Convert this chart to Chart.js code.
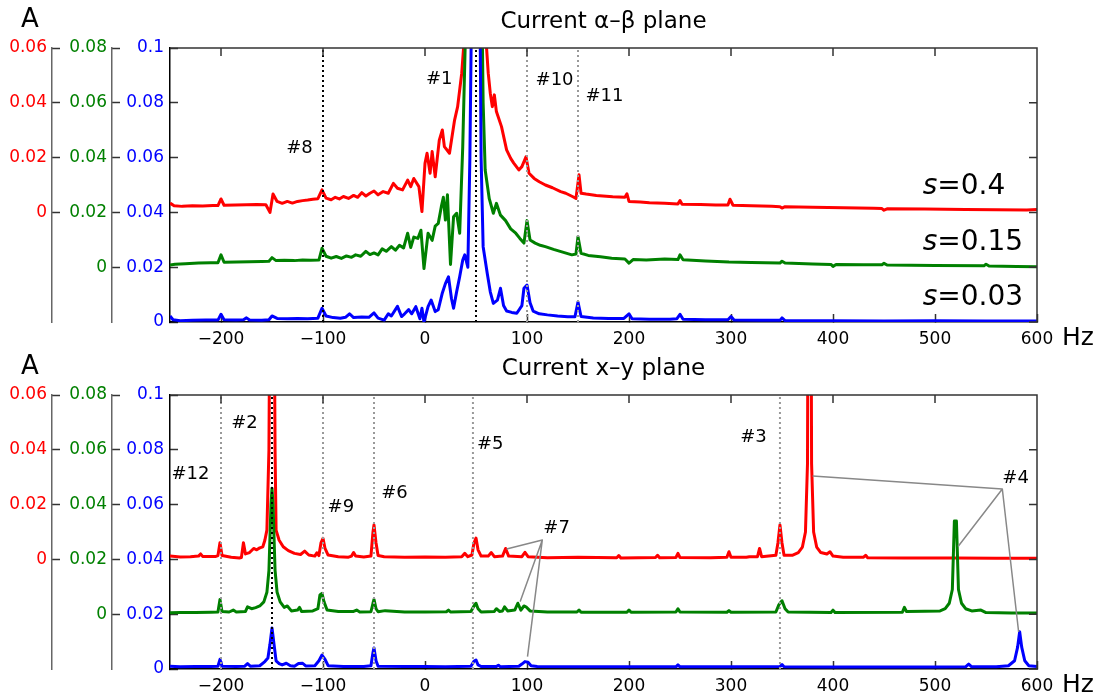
<!DOCTYPE html>
<html>
<head>
<meta charset="utf-8">
<script src="https://cdn.jsdelivr.net/npm/chart.js@4.4.0/dist/chart.umd.min.js"></script>
<style>
  body { margin: 0; background: #fff; }
  canvas { position: absolute; left: 0; }
  #ab { top: 0; }
  #xy { top: 347px; }
</style>
</head>
<body>
<canvas id="ab" width="1107" height="350"></canvas>
<canvas id="xy" width="1107" height="350"></canvas>
<script>
// Spectra as [frequency in Hz, amplitude in A], each trace in the units of its own axis
// (red axis is offset by 0.04, green by 0.02 relative to the blue one).

// Current in the alpha-beta plane
const abRed = [
  [-250, 0.0034], [-246, 0.0024], [-238, 0.0022], [-228, 0.0024], [-218, 0.0023], [-208, 0.0025],
  [-203, 0.0025], [-200, 0.0049], [-197, 0.0026], [-186, 0.0027], [-175, 0.0028], [-165, 0.0029],
  [-156, 0.0028], [-152, 0.0000], [-149, 0.0067], [-145, 0.0040], [-140, 0.0033], [-135, 0.0040],
  [-130, 0.0034], [-125, 0.0040], [-120, 0.0043], [-115, 0.0045], [-110, 0.0048], [-105, 0.0050],
  [-101, 0.0082], [-97, 0.0052], [-92, 0.0046], [-88, 0.0055], [-84, 0.0049], [-80, 0.0058],
  [-75, 0.0051], [-70, 0.0062], [-66, 0.0055], [-62, 0.0072], [-58, 0.0060], [-54, 0.0070],
  [-50, 0.0078], [-46, 0.0064], [-41, 0.0076], [-36, 0.0070], [-31, 0.0106], [-27, 0.0088],
  [-22, 0.0082], [-17, 0.0118], [-14, 0.0094], [-11, 0.0124], [-6, 0.0094], [-3, 0.0003],
  [0, 0.0179], [2, 0.0216], [5, 0.0143], [7, 0.0222], [10, 0.0130], [14, 0.0264], [17, 0.0301],
  [19, 0.0240], [24, 0.0216], [29, 0.0337], [32, 0.0386], [36, 0.0508], [39, 0.066], [42, 0.10],
  [46, 0.17], [50, 0.26], [54, 0.17], [57, 0.11], [60, 0.062], [62, 0.0508], [64, 0.0435],
  [66, 0.0386], [68, 0.0429], [70, 0.0368], [75, 0.0313], [80, 0.0228], [84, 0.0197], [87, 0.0180],
  [92, 0.0155], [95, 0.0167], [99, 0.0203], [102, 0.0143], [107, 0.0124], [112, 0.0112],
  [118, 0.0100], [125, 0.0090], [133, 0.0076], [138, 0.0070], [145, 0.0057], [148, 0.0051],
  [151, 0.0137], [153, 0.0070], [158, 0.0067], [168, 0.0062], [184, 0.0057], [196, 0.0055],
  [198, 0.0068], [200, 0.0040], [211, 0.0038], [220, 0.0035], [235, 0.0033], [248, 0.0031],
  [250, 0.0043], [252, 0.0030], [270, 0.0029], [285, 0.0027], [297, 0.0027], [299, 0.0048],
  [302, 0.0026], [320, 0.0024], [340, 0.0022], [348, 0.0021], [350, 0.0016], [353, 0.0021],
  [380, 0.0019], [410, 0.0017], [440, 0.0015], [448, 0.0014], [450, 0.0008], [453, 0.0013],
  [490, 0.0012], [530, 0.0011], [560, 0.0010], [590, 0.0009], [600, 0.0011]
];
const abGreen = [
  [-250, 0.0008], [-245, 0.0011], [-235, 0.0013], [-222, 0.0015], [-210, 0.0016], [-203, 0.0016],
  [-200, 0.0045], [-197, 0.0018], [-185, 0.0019], [-172, 0.0020], [-160, 0.0021], [-153, 0.0022],
  [-150, 0.0035], [-146, 0.0024], [-138, 0.0025], [-128, 0.0024], [-120, 0.0026], [-112, 0.0025],
  [-104, 0.0026], [-101, 0.0069], [-97, 0.0040], [-92, 0.0033], [-87, 0.0039], [-82, 0.0032],
  [-77, 0.0041], [-72, 0.0036], [-68, 0.0045], [-63, 0.0040], [-58, 0.0058], [-54, 0.0046],
  [-50, 0.0052], [-46, 0.0045], [-42, 0.0067], [-38, 0.0058], [-33, 0.0075], [-29, 0.0062],
  [-25, 0.0080], [-21, 0.0070], [-17, 0.0124], [-14, 0.0072], [-11, 0.0110], [-7, 0.0105],
  [-4, 0.0135], [-1, -0.0005], [3, 0.0124], [7, 0.0098], [10, 0.0150], [13, 0.0160], [16, 0.0221],
  [18, 0.0255], [20, 0.0172], [22, 0.0264], [25, 0.0010], [28, 0.0184], [31, 0.0197], [34, 0.0124],
  [37, 0.0440], [40, 0.090], [44, 0.15], [48, 0.24], [52, 0.20], [55, 0.12], [57, 0.060],
  [59, 0.0355], [63, 0.0250], [67, 0.0197], [70, 0.0233], [74, 0.0190], [79, 0.0170], [84, 0.0140],
  [89, 0.0124], [93, 0.0105], [97, 0.0088], [100, 0.0170], [103, 0.0099], [108, 0.0088],
  [113, 0.0080], [118, 0.0075], [126, 0.0065], [135, 0.0055], [144, 0.0045], [148, 0.0048],
  [150, 0.0111], [153, 0.0051], [160, 0.0043], [172, 0.0038], [183, 0.0033], [196, 0.0030],
  [200, 0.0015], [204, 0.0028], [217, 0.0026], [235, 0.0030], [248, 0.0028], [250, 0.0045],
  [253, 0.0027], [275, 0.0023], [298, 0.0019], [320, 0.0017], [348, 0.0015], [350, 0.0022],
  [353, 0.0015], [380, 0.0012], [398, 0.0010], [400, 0.0003], [403, 0.0010], [430, 0.0009],
  [448, 0.0009], [450, 0.0014], [453, 0.0008], [500, 0.0006], [548, 0.0005], [550, 0.0011],
  [553, 0.0004], [580, 0.0003], [600, 0.0002]
];
const abBlue = [
  [-250, 0.0022], [-247, 0.0008], [-240, 0.0005], [-228, 0.0006], [-215, 0.0007], [-203, 0.0007],
  [-200, 0.0028], [-197, 0.0008], [-185, 0.0007], [-178, 0.0008], [-175, 0.0015], [-172, 0.0007],
  [-160, 0.0006], [-153, 0.0008], [-150, 0.0022], [-145, 0.0013], [-135, 0.0012], [-125, 0.0013],
  [-115, 0.0012], [-105, 0.0014], [-101, 0.0050], [-97, 0.0022], [-90, 0.0016], [-83, 0.0014],
  [-78, 0.0017], [-74, 0.0030], [-70, 0.0016], [-62, 0.0018], [-55, 0.0017], [-50, 0.0033],
  [-46, 0.0014], [-40, 0.0007], [-36, 0.0030], [-33, 0.0022], [-27, 0.0057], [-23, 0.0020],
  [-20, 0.0030], [-16, 0.0045], [-13, 0.0030], [-9, 0.0056], [-5, 0.0012], [-3, 0.0050],
  [-1, 0.0000], [3, 0.0056], [6, 0.0080], [10, 0.0038], [13, 0.0045], [17, 0.0106], [20, 0.0140],
  [23, 0.0165], [26, 0.0085], [28, 0.0050], [31, 0.0110], [34, 0.0165], [37, 0.0226], [39, 0.0245],
  [42, 0.0200], [44, 0.06], [47, 0.16], [50, 0.30], [53, 0.16], [55, 0.06], [57, 0.0275],
  [61, 0.0178], [64, 0.0110], [67, 0.0068], [71, 0.0080], [74, 0.0123], [77, 0.0060], [80, 0.0040],
  [85, 0.0035], [90, 0.0032], [95, 0.0060], [97, 0.0123], [100, 0.0135], [103, 0.0070],
  [106, 0.0040], [112, 0.0030], [120, 0.0026], [130, 0.0022], [140, 0.0019], [147, 0.0019],
  [150, 0.0073], [153, 0.0020], [165, 0.0015], [180, 0.0013], [195, 0.0013], [200, 0.0030],
  [203, 0.0012], [220, 0.0010], [240, 0.0010], [247, 0.0012], [250, 0.0028], [253, 0.0010],
  [275, 0.0008], [297, 0.0008], [300, 0.0020], [303, 0.0007], [330, 0.0006], [348, 0.0006],
  [350, 0.0015], [353, 0.0005], [400, 0.0005], [450, 0.0004], [500, 0.0005], [550, 0.0004],
  [600, 0.0004]
];

// Current in the x-y plane
const xyRed = [
  [-250, 0.0012], [-240, 0.0009], [-230, 0.0010], [-222, 0.0012], [-220, 0.0020], [-218, 0.0011],
  [-205, 0.0011], [-203, 0.0014], [-201, 0.0061], [-199, 0.0014], [-190, 0.0008], [-182, 0.0005],
  [-180, 0.0007], [-178, 0.0061], [-176, 0.0020], [-172, 0.0025], [-168, 0.0040], [-165, 0.0035],
  [-162, 0.0042], [-159, 0.0046], [-157, 0.0070], [-155, 0.0107], [-153, 0.040], [-151, 0.17],
  [-150, 0.30], [-149, 0.17], [-147, 0.040], [-146, 0.0107], [-143, 0.0070], [-139, 0.0046],
  [-134, 0.0032], [-128, 0.0022], [-122, 0.0018], [-118, 0.0030], [-114, 0.0016], [-108, 0.0012],
  [-106, 0.0024], [-104, 0.0014], [-102, 0.0060], [-100, 0.0077], [-98, 0.0040], [-95, 0.0016],
  [-85, 0.0010], [-75, 0.0008], [-72, 0.0012], [-70, 0.0025], [-68, 0.0012], [-60, 0.0009],
  [-53, 0.0012], [-51, 0.0100], [-50, 0.0126], [-48, 0.0060], [-46, 0.0014], [-40, 0.0010],
  [-20, 0.0008], [0, 0.0009], [20, 0.0008], [36, 0.0010], [39, 0.0022], [42, 0.0010], [46, 0.0016],
  [48, 0.0060], [50, 0.0078], [52, 0.0035], [55, 0.0012], [62, 0.0012], [65, 0.0025], [68, 0.0010],
  [76, 0.0012], [79, 0.0040], [82, 0.0012], [95, 0.0010], [98, 0.0026], [101, 0.0010], [120, 0.0006],
  [150, 0.0008], [188, 0.0006], [190, 0.0014], [192, 0.0005], [226, 0.0007], [228, 0.0015],
  [230, 0.0006], [246, 0.0007], [248, 0.0022], [250, 0.0007], [280, 0.0006], [296, 0.0008],
  [298, 0.0028], [300, 0.0008], [315, 0.0008], [318, 0.0010], [326, 0.0010], [328, 0.0040],
  [330, 0.0010], [344, 0.0015], [346, 0.0060], [348, 0.0126], [350, 0.0060], [352, 0.0015],
  [360, 0.0015], [366, 0.0025], [370, 0.0045], [373, 0.010], [375, 0.035], [377, 0.30], [379, 0.035],
  [381, 0.010], [384, 0.0045], [388, 0.0025], [394, 0.0020], [397, 0.0028], [400, 0.0012],
  [410, 0.0008], [430, 0.0008], [432, 0.0015], [434, 0.0006], [470, 0.0005], [520, 0.0005],
  [560, 0.0004], [600, 0.0004]
];
const xyGreen = [
  [-250, 0.0005], [-240, 0.0006], [-225, 0.0006], [-210, 0.0007], [-203, 0.0008], [-201, 0.0054],
  [-199, 0.0010], [-192, 0.0008], [-188, 0.0015], [-185, 0.0008], [-176, 0.0010], [-174, 0.0027],
  [-170, 0.0020], [-166, 0.0024], [-162, 0.0030], [-158, 0.0045], [-155, 0.0080], [-153, 0.016],
  [-151, 0.040], [-150, 0.046], [-149, 0.040], [-147, 0.016], [-145, 0.0080], [-142, 0.0045],
  [-138, 0.0025], [-135, 0.0030], [-131, 0.0012], [-125, 0.0015], [-123, 0.0025], [-121, 0.0010],
  [-110, 0.0012], [-105, 0.0020], [-103, 0.0070], [-101, 0.0076], [-99, 0.0045], [-96, 0.0015],
  [-85, 0.0010], [-70, 0.0010], [-67, 0.0015], [-64, 0.0008], [-53, 0.0009], [-51, 0.0040],
  [-50, 0.0054], [-48, 0.0020], [-46, 0.0009], [-39, 0.0013], [-20, 0.0008], [0, 0.0008],
  [21, 0.0009], [23, 0.0015], [25, 0.0008], [45, 0.0010], [48, 0.0030], [50, 0.0040], [52, 0.0020],
  [55, 0.0008], [68, 0.0010], [70, 0.0020], [73, 0.0010], [76, 0.0012], [78, 0.0027], [81, 0.0012],
  [88, 0.0015], [91, 0.0040], [94, 0.0015], [97, 0.0030], [99, 0.0027], [103, 0.0012], [120, 0.0008],
  [149, 0.0008], [151, 0.0015], [153, 0.0007], [198, 0.0007], [200, 0.0015], [202, 0.0007],
  [246, 0.0008], [248, 0.0020], [250, 0.0008], [296, 0.0007], [298, 0.0013], [300, 0.0007],
  [344, 0.0008], [347, 0.0035], [350, 0.0049], [353, 0.0020], [356, 0.0008], [398, 0.0006],
  [400, 0.0015], [402, 0.0006], [468, 0.0007], [470, 0.0025], [472, 0.0010], [490, 0.0011],
  [505, 0.0012], [510, 0.0020], [514, 0.0040], [517, 0.0090], [519, 0.034], [521, 0.034],
  [523, 0.0090], [526, 0.0040], [530, 0.0020], [536, 0.0012], [545, 0.0015], [550, 0.0006],
  [575, 0.0004], [600, 0.0004]
];
const xyBlue = [
  [-250, 0.0010], [-240, 0.0008], [-225, 0.0009], [-210, 0.0009], [-203, 0.0010], [-201, 0.0035],
  [-199, 0.0010], [-185, 0.0009], [-177, 0.0010], [-174, 0.0020], [-171, 0.0010], [-162, 0.0012],
  [-157, 0.0027], [-154, 0.0040], [-152, 0.0090], [-150, 0.0150], [-148, 0.0090], [-146, 0.0030],
  [-143, 0.0020], [-140, 0.0015], [-136, 0.0021], [-132, 0.0012], [-128, 0.0010], [-124, 0.0020],
  [-120, 0.0021], [-117, 0.0011], [-108, 0.0012], [-104, 0.0030], [-101, 0.0051], [-98, 0.0035],
  [-95, 0.0012], [-80, 0.0009], [-60, 0.0009], [-53, 0.0012], [-51, 0.0060], [-50, 0.0077],
  [-48, 0.0030], [-46, 0.0010], [-20, 0.0009], [0, 0.0009], [20, 0.0008], [45, 0.0010],
  [48, 0.0028], [50, 0.0033], [52, 0.0015], [55, 0.0009], [70, 0.0009], [72, 0.0014], [74, 0.0008],
  [92, 0.0010], [95, 0.0018], [98, 0.0027], [101, 0.0025], [104, 0.0012], [110, 0.0009],
  [150, 0.0008], [200, 0.0008], [246, 0.0008], [248, 0.0015], [250, 0.0008], [300, 0.0008],
  [348, 0.0009], [350, 0.0016], [352, 0.0008], [400, 0.0007], [450, 0.0007], [500, 0.0007],
  [530, 0.0008], [533, 0.0018], [536, 0.0008], [560, 0.0008], [572, 0.0012], [578, 0.0030],
  [581, 0.0080], [583, 0.0136], [585, 0.0080], [588, 0.0030], [592, 0.0012], [600, 0.0009]
];

// marked harmonics (Hz)
const abMarkBlack = [-100, 50];
const abMarkGray = [100, 150];
const xyMarkBlack = [-150];
const xyMarkGray = [-200, -100, -50, 47, 348];

// leader lines of labels #4 and #7, blue-axis units
const xyLeader4 = [[380, 0.0704], [566, 0.0657], [523, 0.0449], [566, 0.0657], [582, 0.0135]];
const xyLeader7 = [[80, 0.0438], [115, 0.0471], [93.5, 0.0248], [115, 0.0471], [100.5, 0.0045]];

// text labels: [text, Hz, A on the blue axis]
const abLabels = [['#1', 14, 0.0885], ['#8', -123, 0.0633], ['#10', 127, 0.0881], ['#11', 176, 0.0825]];
const abSlip = [['0.4', 488, 0.0493], ['0.15', 488, 0.0288], ['0.03', 488, 0.0088]];
const xyLabels = [
  ['#12', -230, 0.0709], ['#2', -177, 0.0898], ['#9', -82.5, 0.0589], ['#6', -30, 0.0641],
  ['#5', 64, 0.0820], ['#7', 129, 0.0514], ['#3', 322, 0.0845], ['#4', 579, 0.0697]
];

const FONT = 'DejaVu Sans';
const RED = '#ff0000', GREEN = '#008000', BLUE = '#0000ff';
const TICK = 8; // inward tick length

function trace(data, color, axis, order) {
  return { data, borderColor: color, yAxisID: axis, order, borderWidth: 3 };
}

function mark(hz, color) {
  return {
    data: [[hz, 0], [hz, 0.1]], borderColor: color, borderWidth: 2,
    borderDash: [2, 3], yAxisID: 'yB', order: 0
  };
}

function leader(data) {
  return { data, borderColor: '#888', borderWidth: 1.5, yAxisID: 'yB', order: 0 };
}

// negative tick length turns the tick marks towards the plot
const inwardTicks = {
  display: true, drawOnChartArea: false, drawTicks: true,
  tickLength: -TICK, tickColor: '#333', tickWidth: 1.5
};

function yAxis(min, max, color, weight, width, pad, borderColor) {
  return {
    type: 'linear', position: 'left', min, max, weight,
    grid: inwardTicks,
    border: { display: true, color: borderColor, width: 1.5 },
    ticks: {
      stepSize: 0.02, color, padding: pad + TICK,
      font: { family: FONT, size: 17 },
      callback: v => String(+v.toFixed(3))
    },
    // only the non-negative part of the offset axes is labelled
    afterBuildTicks: s => { s.ticks = s.ticks.filter(t => t.value > -1e-9); },
    afterFit: s => { s.width = width; }
  };
}

// top/right frame with its ticks, and the free text of each panel
function framePlugin(labels, slips) {
  return {
    id: 'frame',
    afterDraw(chart) {
      const { ctx, chartArea: a, scales } = chart;
      const { x, yB } = scales;
      ctx.save();
      ctx.strokeStyle = '#333';
      ctx.lineWidth = 1.5;
      ctx.beginPath();
      ctx.moveTo(a.left, a.top);
      ctx.lineTo(a.right, a.top);
      ctx.lineTo(a.right, a.bottom);
      x.ticks.forEach(t => {
        const px = x.getPixelForValue(t.value);
        ctx.moveTo(px, a.top);
        ctx.lineTo(px, a.top + TICK);
      });
      yB.ticks.forEach(t => {
        const py = yB.getPixelForValue(t.value);
        ctx.moveTo(a.right, py);
        ctx.lineTo(a.right - TICK, py);
      });
      ctx.stroke();

      ctx.fillStyle = '#000';
      ctx.textBaseline = 'middle';
      ctx.textAlign = 'center';
      ctx.font = `18px ${FONT}`;
      for (const [text, hz, amp] of labels) {
        ctx.fillText(text, x.getPixelForValue(hz), yB.getPixelForValue(amp));
      }
      ctx.textAlign = 'left';
      for (const [val, hz, amp] of slips) {
        let px = x.getPixelForValue(hz);
        const py = yB.getPixelForValue(amp);
        ctx.font = `italic 28px ${FONT}`;
        ctx.fillText('s', px, py);
        px += ctx.measureText('s').width;
        ctx.font = `28px ${FONT}`;
        ctx.fillText('=' + val, px, py);
      }
      ctx.textAlign = 'center';
      ctx.font = `26px ${FONT}`;
      ctx.fillText('A', 30, 20);
      ctx.textAlign = 'left';
      ctx.font = `25px ${FONT}`;
      ctx.fillText('Hz', a.right + 25, a.bottom + 16);
      ctx.restore();
    }
  };
}

function panel(id, title, datasets, labels, slips) {
  return new Chart(document.getElementById(id), {
    type: 'line',
    data: { datasets },
    options: {
      responsive: false,
      animation: false,
      devicePixelRatio: 1,
      events: [],
      layout: { padding: { left: 0, right: 70, top: 0, bottom: 0 } },
      elements: {
        point: { radius: 0 },
        line: { tension: 0, borderJoinStyle: 'round', borderCapStyle: 'butt' }
      },
      plugins: {
        legend: { display: false },
        tooltip: { enabled: false },
        title: {
          display: true, text: title, fullSize: false, color: '#000',
          font: { family: FONT, size: 23, weight: 'normal' },
          padding: { top: 8, bottom: 12.4 }
        }
      },
      scales: {
        x: {
          type: 'linear', min: -250, max: 600,
          grid: inwardTicks,
          border: { display: true, color: '#000', width: 1.5 },
          ticks: {
            stepSize: 100, includeBounds: false, color: '#000', padding: 7 + TICK, maxRotation: 0,
            font: { family: FONT, size: 17 },
            callback: v => String(v).replace('-', '\u2212')
          },
          afterFit: s => { s.height = 28; }
        },
        yR: yAxis(-0.04, 0.06, RED, 2, 52, 5, '#666'),
        yG: yAxis(-0.02, 0.08, GREEN, 1, 60, 5, '#666'),
        yB: yAxis(0, 0.1, BLUE, 0, 58, 6, '#000')
      }
    },
    plugins: [framePlugin(labels, slips)]
  });
}

panel('ab', 'Current \u03b1\u2013\u03b2 plane', [
  trace(abRed, RED, 'yR', 3),
  trace(abGreen, GREEN, 'yG', 2),
  trace(abBlue, BLUE, 'yB', 1),
  ...abMarkGray.map(hz => mark(hz, '#999')),
  ...abMarkBlack.map(hz => mark(hz, '#000'))
], abLabels, abSlip);

panel('xy', 'Current x\u2013y plane', [
  trace(xyRed, RED, 'yR', 3),
  trace(xyGreen, GREEN, 'yG', 2),
  trace(xyBlue, BLUE, 'yB', 1),
  leader(xyLeader4),
  leader(xyLeader7),
  ...xyMarkGray.map(hz => mark(hz, '#999')),
  ...xyMarkBlack.map(hz => mark(hz, '#000'))
], xyLabels, []);
</script>
</body>
</html>
